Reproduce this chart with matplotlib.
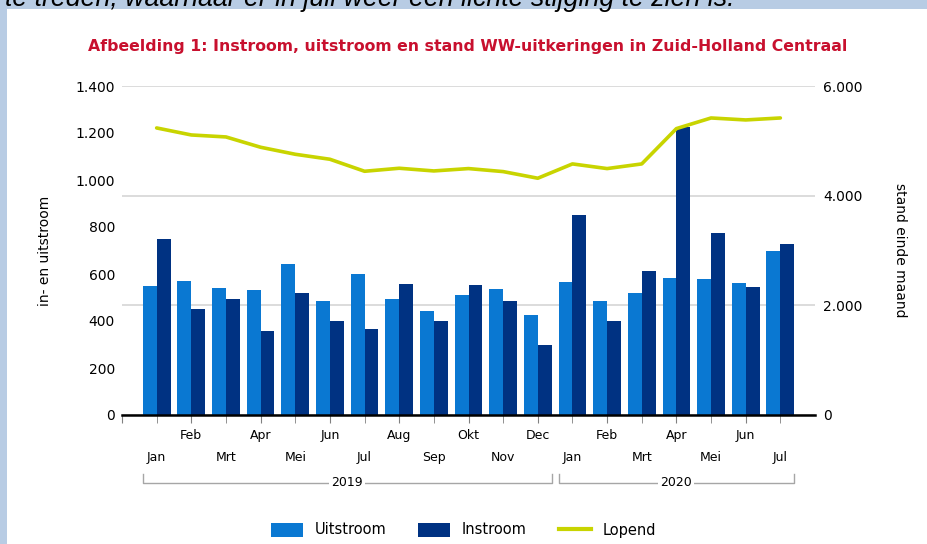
import matplotlib
matplotlib.use("Agg")
import matplotlib.pyplot as plt
from matplotlib.patches import Rectangle, Patch
from matplotlib.lines import Line2D
from matplotlib.ticker import FuncFormatter
import numpy as np

# data
months = ["Jan", "Feb", "Mrt", "Apr", "Mei", "Jun", "Jul", "Aug", "Sep", "Okt", "Nov", "Dec",
          "Jan", "Feb", "Mrt", "Apr", "Mei", "Jun", "Jul"]
years = ["2019", "2020"]
uitstroom = [550, 570, 540, 534, 643, 487, 598, 493, 442, 509, 538, 427,
             567, 487, 519, 581, 580, 563, 700]
instroom = [751, 451, 492, 356, 521, 402, 368, 558, 402, 554, 487, 299,
            853, 400, 612, 1226, 774, 543, 726]
lopend = [5235, 5107, 5071, 4883, 4755, 4664, 4445, 4500, 4451, 4494, 4439, 4318,
          4579, 4494, 4579, 5223, 5417, 5381, 5417]

C_UIT = "#0a78d2"
C_IN = "#003282"
C_LOP = "#c8d400"
GRID = "#d9d9d9"

fig = plt.figure(figsize=(9.27, 5.44), dpi=100, facecolor="#b8cce4")
fig.patches.append(Rectangle((7 / 927, 0), 1, 1 - 9 / 544, transform=fig.transFigure,
                             facecolor="white", edgecolor="none", zorder=0))
# sentence of the surrounding document, cut off at the top edge as in the source
fig.text(5 / 927, 1 - 6 / 544, "te treden, waarnaar er in juli weer een lichte stijging te zien is.",
         fontsize=19.3, style="italic", family="Liberation Sans", va="baseline", ha="left")

fig.text(0.505, 1 - 46 / 544,
         "Afbeelding 1: Instroom, uitstroom en stand WW-uitkeringen in Zuid-Holland Centraal",
         color="#c8102e", fontsize=11.3, fontweight="bold", ha="center", va="center")

ax = fig.add_axes([122 / 927, 1 - 415 / 544, 693 / 927, 329 / 544])
ax2 = ax.twinx()
ax.set_zorder(2)
ax.patch.set_visible(False)
ax2.set_zorder(1)

x = np.arange(len(months))
w = 0.4
ax.bar(x - w / 2, uitstroom, w, color=C_UIT, zorder=3)
ax.bar(x + w / 2, instroom, w, color=C_IN, zorder=3)
ax.plot(x, np.array(lopend) * 1400 / 6000, color=C_LOP, lw=2.6, zorder=4,
        solid_capstyle="round")

ax.set_xlim(-1, 19)
ax.set_ylim(0, 1400)
ax2.set_ylim(0, 6000)

thousands = FuncFormatter(lambda v, p: f"{int(v):,}".replace(",", "."))
ax.set_yticks(range(0, 1401, 200))
ax.yaxis.set_major_formatter(thousands)
ax2.set_yticks([0, 2000, 4000, 6000])
ax2.yaxis.set_major_formatter(thousands)
ax2.yaxis.grid(True, color=GRID, lw=1.3)
ax2.set_axisbelow(True)

for a in (ax, ax2):
    for s in ("left", "right", "top"):
        a.spines[s].set_visible(False)
ax.spines["bottom"].set_linewidth(1.8)
ax.spines["bottom"].set_zorder(5)
ax2.spines["bottom"].set_visible(False)

ax.tick_params(axis="y", length=0, pad=5, labelsize=10)
ax2.tick_params(axis="y", length=0, pad=6, labelsize=10)
ax2.tick_params(axis="x", bottom=False, labelbottom=False)

# alternating month labels
odd = [i for i in x if i % 2 == 1]
even = [i for i in x if i % 2 == 0]
ax.set_xticks([-1] + odd)
ax.set_xticklabels([""] + [months[i] for i in odd])
ax.set_xticks(even, minor=True)
ax.set_xticklabels([months[i] for i in even], minor=True)
ax.tick_params(axis="x", which="major", length=6, color="#808080", pad=4, labelsize=9)
ax.tick_params(axis="x", which="minor", length=6, color="#808080", pad=20, labelsize=9)

ax.set_ylabel("in- en uitstroom", fontsize=10)
ax.yaxis.set_label_coords(-0.101, 0.5)
ax2.set_ylabel("stand einde maand", fontsize=10, rotation=-90, va="center")
ax2.yaxis.set_label_coords(1.1227, 0.5)

# year brackets
tr = ax.get_xaxis_transform()
yb = -(483 - 415) / 329
yt = -(474 - 415) / 329
for yr, (a0, a1) in zip(years, [(-0.4, 11.4), (11.6, 18.4)]):
    ax.plot([a0, a0, a1, a1], [yt, yb, yb, yt], color="#a6a6a6", lw=1,
            transform=tr, clip_on=False)
    ax.text((a0 + a1) / 2, yb, yr, transform=tr, ha="center", va="center", fontsize=9,
            bbox=dict(facecolor="white", edgecolor="none", pad=1.5))

handles = [Patch(facecolor=C_UIT, label="Uitstroom"),
           Patch(facecolor=C_IN, label="Instroom"),
           Line2D([0], [0], color=C_LOP, lw=3, label="Lopend")]
fig.legend(handles=handles, loc="center", bbox_to_anchor=(0.5, 1 - 530 / 544), ncol=3,
           frameon=False, fontsize=10.5, handlelength=2.2, handleheight=1.1,
           columnspacing=2.2, handletextpad=0.8)

fig.savefig("out.png", dpi=100, facecolor=fig.get_facecolor())
